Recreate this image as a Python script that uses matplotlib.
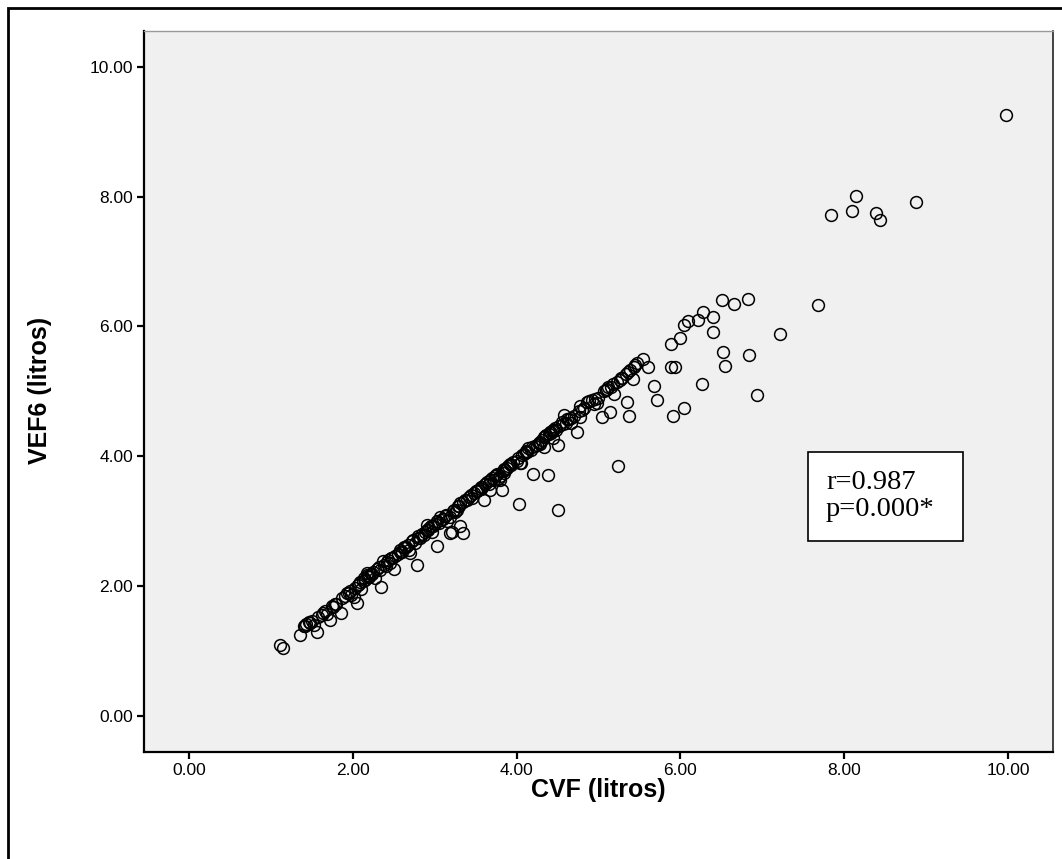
import matplotlib
matplotlib.use("Agg")
import matplotlib.pyplot as plt
from matplotlib.patches import Rectangle

# CVF (litros) y VEF6 (litros)
cvf = [1.11, 1.15, 1.36, 1.40, 1.43, 1.46, 1.50, 1.52, 1.56, 1.58, 1.62, 1.66, 1.68, 1.72,
       1.74, 1.76, 1.80, 1.85, 1.87, 1.90, 1.93, 1.96, 1.98, 2.01, 2.03, 2.05, 2.06, 2.09,
       2.10, 2.12, 2.15, 2.17, 2.17, 2.20, 2.22, 2.25, 2.27, 2.30, 2.33, 2.35, 2.37, 2.38,
       2.40, 2.43, 2.45, 2.48, 2.50, 2.52, 2.55, 2.58, 2.60, 2.62, 2.65, 2.68, 2.70, 2.72,
       2.74, 2.76, 2.78, 2.80, 2.82, 2.85, 2.87, 2.90, 2.90, 2.92, 2.95, 2.97, 3.00, 3.03,
       3.03, 3.05, 3.07, 3.10, 3.12, 3.15, 3.19, 3.19, 3.21, 3.23, 3.25, 3.27, 3.28, 3.31,
       3.31, 3.34, 3.35, 3.39, 3.42, 3.45, 3.48, 3.50, 3.53, 3.56, 3.58, 3.60, 3.62, 3.64,
       3.66, 3.68, 3.70, 3.72, 3.74, 3.76, 3.78, 3.80, 3.80, 3.82, 3.83, 3.85, 3.86, 3.88,
       3.90, 3.93, 3.96, 4.00, 4.03, 4.04, 4.05, 4.07, 4.09, 4.11, 4.13, 4.14, 4.17, 4.20,
       4.22, 4.25, 4.27, 4.29, 4.31, 4.33, 4.33, 4.36, 4.38, 4.39, 4.41, 4.43, 4.44, 4.45,
       4.47, 4.50, 4.51, 4.52, 4.55, 4.58, 4.60, 4.62, 4.66, 4.66, 4.70, 4.74, 4.76, 4.78,
       4.78, 4.82, 4.86, 4.89, 4.92, 4.94, 4.98, 5.00, 5.04, 5.07, 5.09, 5.12, 5.14, 5.15,
       5.19, 5.22, 5.24, 5.27, 5.29, 5.33, 5.35, 5.37, 5.39, 5.42, 5.43, 5.45, 5.47, 5.54,
       5.60, 5.68, 5.71, 5.88, 5.88, 5.91, 5.94, 5.99, 6.04, 6.04, 6.09, 6.22, 6.26, 6.28,
       6.40, 6.40, 6.51, 6.52, 6.54, 6.66, 6.82, 6.84, 6.93, 7.22, 7.68, 7.84, 8.09, 8.15,
       8.39, 8.44, 8.88, 9.97,
       1.42, 1.48, 1.64, 1.78, 1.95, 2.08, 2.14, 2.19, 2.24, 2.32, 2.42, 2.47, 2.57, 2.63,
       2.67, 2.79, 2.88, 2.93, 2.98, 3.08, 3.14, 3.22, 3.30, 3.37, 3.44, 3.52, 3.57, 3.67,
       3.75, 3.84, 3.92, 4.02, 4.12, 4.19, 4.28, 4.35, 4.42, 4.48, 4.57, 4.64, 4.80, 4.96,
       5.10, 5.18, 5.26, 5.36]
vef6 = [1.09, 1.04, 1.25, 1.38, 1.41, 1.45, 1.47, 1.40, 1.30, 1.52, 1.56, 1.61, 1.57, 1.48,
        1.70, 1.68, 1.73, 1.58, 1.81, 1.85, 1.89, 1.92, 1.86, 1.84, 1.97, 1.74, 2.02, 2.07,
        1.95, 2.08, 2.10, 2.17, 2.20, 2.14, 2.18, 2.22, 2.12, 2.27, 2.25, 1.98, 2.38, 2.33,
        2.31, 2.40, 2.36, 2.44, 2.27, 2.47, 2.50, 2.56, 2.52, 2.58, 2.61, 2.55, 2.51, 2.69,
        2.71, 2.66, 2.33, 2.77, 2.74, 2.81, 2.78, 2.87, 2.94, 2.86, 2.92, 2.84, 2.96, 2.62,
        3.00, 2.97, 3.07, 3.04, 3.08, 3.00, 2.82, 3.07, 2.84, 3.18, 3.14, 3.17, 3.23, 2.92,
        3.28, 2.82, 3.30, 3.33, 3.38, 3.36, 3.43, 3.46, 3.48, 3.53, 3.52, 3.33, 3.57, 3.61,
        3.58, 3.48, 3.66, 3.63, 3.69, 3.72, 3.66, 3.64, 3.70, 3.48, 3.77, 3.80, 3.79, 3.82,
        3.85, 3.86, 3.91, 3.93, 3.27, 3.90, 3.89, 4.02, 4.04, 4.06, 4.07, 4.12, 4.10, 3.73,
        4.16, 4.18, 4.20, 4.19, 4.25, 4.15, 4.30, 4.33, 3.71, 4.35, 4.37, 4.39, 4.40, 4.28,
        4.43, 3.17, 4.18, 4.46, 4.53, 4.64, 4.52, 4.58, 4.51, 4.59, 4.62, 4.37, 4.70, 4.61,
        4.78, 4.75, 4.84, 4.85, 4.87, 4.80, 4.82, 4.90, 4.61, 5.00, 5.02, 5.07, 4.68, 5.07,
        4.96, 5.15, 3.85, 5.20, 5.20, 5.26, 4.84, 4.62, 5.33, 5.19, 5.38, 5.41, 5.43, 5.50,
        5.37, 5.08, 4.87, 5.73, 5.37, 4.62, 5.38, 5.82, 6.02, 4.74, 6.08, 6.10, 5.12, 6.22,
        6.14, 5.92, 6.41, 5.61, 5.39, 6.35, 6.42, 5.56, 4.94, 5.88, 6.33, 7.71, 7.77, 8.01,
        7.75, 7.64, 7.92, 9.25,
        1.38, 1.43, 1.58, 1.72, 1.90, 2.03, 2.12, 2.16, 2.19, 2.29, 2.37, 2.43, 2.52, 2.60,
        2.64, 2.74, 2.83, 2.90, 2.93, 3.02, 3.10, 3.15, 3.24, 3.33, 3.40, 3.47, 3.50, 3.63,
        3.71, 3.75, 3.88, 3.97, 4.08, 4.14, 4.22, 4.31, 4.36, 4.40, 4.49, 4.57, 4.72, 4.88,
        5.03, 5.12, 5.18, 5.30]

ticks = [0, 2, 4, 6, 8, 10]
tick_labels = ["0.00", "2.00", "4.00", "6.00", "8.00", "10.00"]

W, H = 1062, 859
fig = plt.figure(figsize=(W / 100, H / 100), dpi=100)
fig.patch.set_facecolor("white")

# marco exterior (solo se ven izquierda y arriba)
fig.add_artist(Rectangle((8 / W, -0.05), 1.2, 1 - 8 / H + 0.05,
                         transform=fig.transFigure, fill=False,
                         edgecolor="black", linewidth=2))

ax = fig.add_axes([144 / W, 1 - 751.7 / H, (1053 - 144) / W, (751.7 - 31) / H])
ax.set_facecolor("#f0f0f0")

ax.plot(cvf, vef6, linestyle="none", marker="o", markersize=8.5,
        markerfacecolor="none", markeredgecolor="black", markeredgewidth=1.1)

ax.set_xlim(-0.55, 10.55)
ax.set_ylim(-0.55, 10.55)
ax.set_xticks(ticks)
ax.set_xticklabels(tick_labels)
ax.set_yticks(ticks)
ax.set_yticklabels(tick_labels)
ax.tick_params(direction="out", length=5, width=1.6, color="black",
               labelsize=12.5, pad=3)
for lab in ax.get_xticklabels() + ax.get_yticklabels():
    lab.set_fontfamily("Liberation Sans")

ax.spines["left"].set_linewidth(1.6)
ax.spines["bottom"].set_linewidth(1.6)
ax.spines["right"].set_linewidth(1.2)
ax.spines["right"].set_color("#222222")
ax.spines["top"].set_linewidth(1.0)
ax.spines["top"].set_color("#999999")

fig.text(598 / W, 1 - 790 / H, "CVF (litros)", ha="center", va="center",
         fontsize=18, fontweight="bold", family="Liberation Sans")
fig.text(40 / W, 1 - 390 / H, "VEF6 (litros)", ha="center", va="center",
         rotation=90, fontsize=18, fontweight="bold", family="Liberation Sans")

# cuadro con el coeficiente
fig.add_artist(Rectangle((808 / W, 1 - 541 / H), 155 / W, 89 / H,
                         transform=fig.transFigure, facecolor="white",
                         edgecolor="black", linewidth=1.2, zorder=5))
fig.text(826 / W, 1 - 496 / H, "r=0.987\np=0.000*", ha="left", va="center",
         fontsize=20.5, family="Liberation Serif", linespacing=1.15, zorder=6)

fig.savefig("out.png", dpi=100)
